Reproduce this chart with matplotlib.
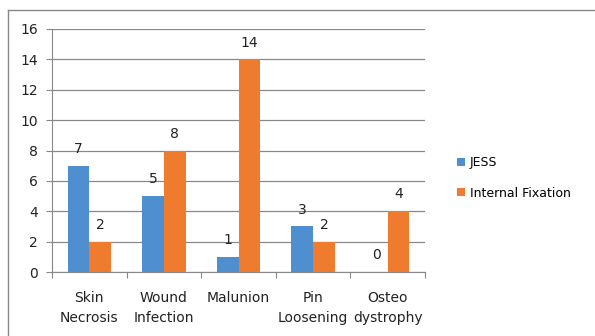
import matplotlib
matplotlib.use("Agg")
import matplotlib.pyplot as plt
from matplotlib.lines import Line2D
import numpy as np

categories = ["Skin\nNecrosis", "Wound\nInfection", "Malunion", "Pin\nLoosening", "Osteo\ndystrophy"]
jess = [7, 5, 1, 3, 0]
internal = [2, 8, 14, 2, 4]
series_names = ["JESS", "Internal Fixation"]
yticks = [0, 2, 4, 6, 8, 10, 12, 14, 16]

W, H = 595, 336
fig = plt.figure(figsize=(W / 100, H / 100), dpi=100)
ax = fig.add_axes([52 / W, 1 - 272 / H, (425 - 52) / W, (272 - 29) / H])

x = np.arange(len(categories))
bw = 0.29
b1 = ax.bar(x - bw / 2, jess, bw, color="#4F8FD0", label=series_names[0], zorder=3)
b2 = ax.bar(x + bw / 2, internal, bw, color="#EF7B2F", label=series_names[1], zorder=3)

for bars, vals in ((b1, jess), (b2, internal)):
    for r, v in zip(bars, vals):
        ax.text(r.get_x() + r.get_width() / 2, v + 0.65, str(v), ha="center", va="bottom",
                fontsize=10, color="#222222")

ax.set_xlim(-0.5, len(categories) - 0.5)
ax.set_ylim(0, 16)
ax.set_yticks(yticks)
ax.yaxis.grid(True, color="#888888", linewidth=0.9, zorder=0)
ax.set_axisbelow(True)
for s in ["top", "right"]:
    ax.spines[s].set_visible(False)
ax.spines["left"].set_color("#888888")
ax.spines["bottom"].set_color("#888888")
ax.tick_params(axis="y", length=4, color="#888888", labelsize=10, labelcolor="#222222", pad=6)
ax.set_xticks(np.arange(len(categories) + 1) - 0.5, minor=False)
ax.set_xticklabels([""] * (len(categories) + 1))
ax.tick_params(axis="x", length=4, color="#888888")
ax.set_xticks(x, minor=True)
ax.set_xticklabels(categories, minor=True, fontsize=10, color="#222222", linespacing=1.5)
ax.tick_params(axis="x", which="minor", length=0, pad=14)

leg = fig.legend(handles=[b1, b2], labels=series_names, loc="upper left",
                 bbox_to_anchor=(446 / W, 1 - 145 / H), frameon=False, fontsize=9,
                 handlelength=0.6, handleheight=0.6, handletextpad=0.4, labelspacing=1.4)

fig.add_artist(Line2D([8 / W, 1], [1 - 10 / H, 1 - 10 / H], color="#888888", lw=1))
fig.add_artist(Line2D([8 / W, 8 / W], [0, 1 - 10 / H], color="#888888", lw=1))

fig.savefig("out.png", dpi=100)
